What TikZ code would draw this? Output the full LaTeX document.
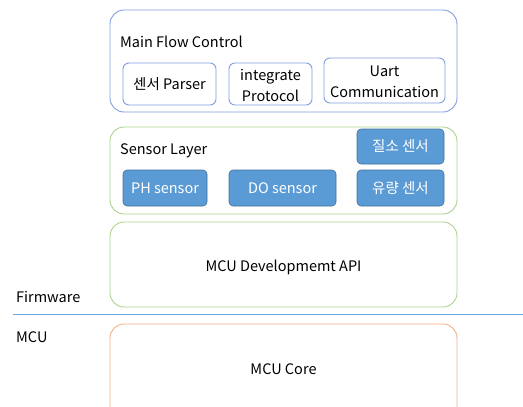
\documentclass[tikz,border=0pt]{standalone}
\usepackage{fontspec}
\setmainfont{Noto Sans CJK KR}
\definecolor{lblue}{HTML}{7F9FDF}
\definecolor{lgreen}{HTML}{A9D18E}
\definecolor{lorange}{HTML}{F4B183}
\definecolor{fblue}{HTML}{5B9BD5}
\definecolor{dblue}{HTML}{41719C}
\definecolor{lineblue}{HTML}{6FA8DC}
\begin{document}
\begin{tikzpicture}[x=1pt,y=-1pt,
  layer/.style={draw=#1, line width=0.9pt, rounded corners=14pt},
  subbox/.style={draw=lblue, line width=0.9pt, rounded corners=6pt},
  fbox/.style={fill=fblue, draw=dblue, line width=0.6pt, rounded corners=4pt},
  lbl/.style={font=\fontsize{14.5}{16}\selectfont, text=black, inner sep=0pt},
  wlbl/.style={font=\fontsize{14.5}{16}\selectfont, text=white, inner sep=0pt},
  side/.style={font=\fontsize{14.5}{16}\selectfont, anchor=west, inner sep=0pt}]
\useasboundingbox (0,0) rectangle (523,407);
\clip (0,0) rectangle (523,407);
% Main Flow Control
\draw[layer=lblue] (110,10) rectangle (457,112);
\node[lbl, anchor=west] (mfc) at (120,42) {Main Flow Control};
\draw[subbox] (123,63) rectangle (216,105);
\node[lbl] (parser) at (169.5,84) {센서 Parser};
\draw[subbox] (229,63) rectangle (312,105);
\node[lbl, align=center, font=\fontsize{14.5}{21}\selectfont] (proto) at (270.5,85.5) {integrate\\Protocol};
\draw[subbox] (324,58) rectangle (445,103);
\node[lbl, align=center, font=\fontsize{14.5}{21}\selectfont] (uart) at (384.5,82) {Uart\\Communication};
% Sensor Layer
\draw[layer=lgreen] (110,127) rectangle (457,214);
\node[lbl, anchor=west] (sl) at (120,151) {Sensor Layer};
\draw[fbox] (357,129) rectangle (444,164);
\node[wlbl] (n2) at (400.5,146.5) {질소 센서};
\draw[fbox] (123,170) rectangle (207,206);
\node[wlbl] (ph) at (165,188) {PH sensor};
\draw[fbox] (229,170) rectangle (336,206);
\node[wlbl] (do) at (282.5,188) {DO sensor};
\draw[fbox] (357,170) rectangle (444,206);
\node[wlbl] (flow) at (400.5,188) {유량 센서};
% MCU API
\draw[layer=lgreen] (110,222) rectangle (457,307);
\node[lbl] (api) at (283.5,267) {MCU Developmemt API};
% separator
\coordinate (ls) at (13,314);
\coordinate (le) at (523,314);
\draw[lineblue, line width=0.9pt] (ls) -- (le);
\node[side] (fw) at (16,297) {Firmware};
\node[side] (mcu) at (16,337) {MCU};
% MCU Core
\draw[layer=lorange] (110,324) rectangle (457,440);
\node[lbl] (core) at (283.5,369) {MCU Core};
\end{tikzpicture}
\end{document}
